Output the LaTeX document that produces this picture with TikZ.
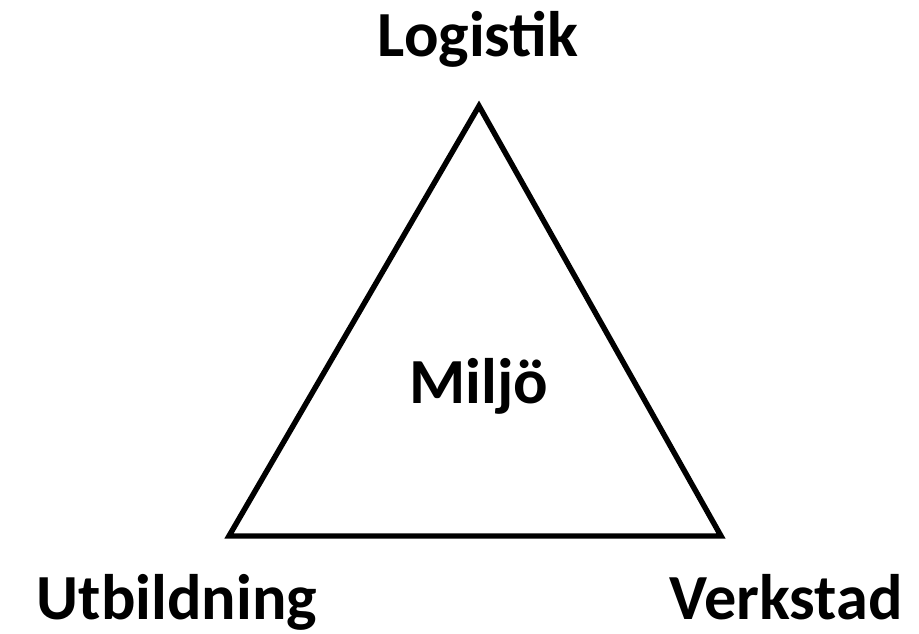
\documentclass[tikz,border=0pt]{standalone}
\usepackage{fontspec}
\setmainfont{Carlito}
\usepackage{tikz}
\usetikzlibrary{positioning}

\tikzset{
	hoek/.style={font=\fontsize{36.6}{42}\selectfont\bfseries, anchor=base, inner sep=0pt}
}

\begin{document}
\begin{tikzpicture}[x=0.02cm, y=0.02cm]
			\useasboundingbox (0,0) rectangle (919,634);
			% triangle
			\coordinate (top) at (479,528);
			\coordinate (vl) at (229,98);
			\coordinate (hr) at (721,98);
			\draw[line width=3.1pt, line join=miter] (top) -- (vl) -- (hr) -- cycle;
			\node[hoek] (logistik) at (478,577) {Logistik};
			\node[hoek] (miljo) at (479,230) {Miljö};
			\node[hoek] (utb) at (177,14) {Utbildning};
			\node[hoek] (verk) at (786,14) {Verkstad};
		\end{tikzpicture}
\end{document}
